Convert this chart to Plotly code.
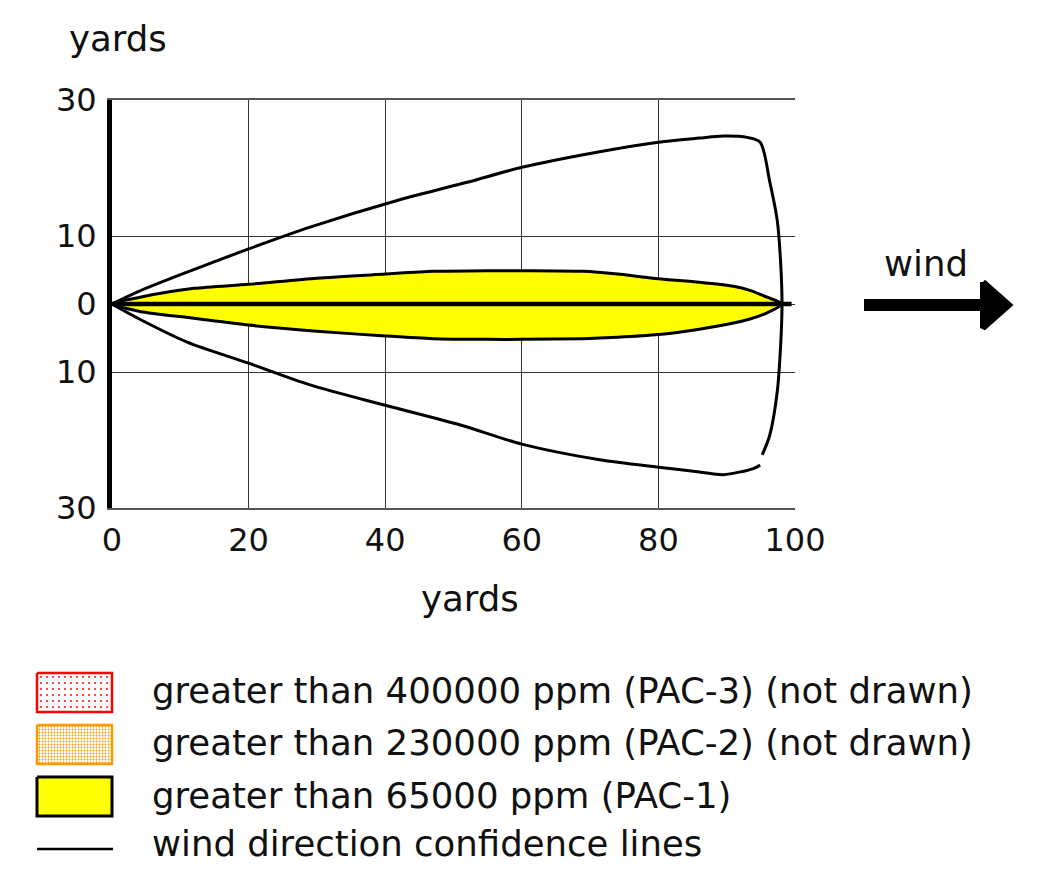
import plotly.graph_objects as go

W, H = 1060, 880
OFF = 8  # page body margin
FONT = "DejaVu Sans"

# wind direction confidence lines (yards downwind, yards crosswind)
upper_x = [0, 4, 11, 20, 29, 42, 52, 60, 71.4, 80, 86, 89.5, 93, 94.9, 96.3, 97.4, 97.9, 98.1, 97.9, 97.4, 96.3, 95.2]
upper_y = [0, 1.9, 4.7, 8.1, 11.3, 15.3, 17.9, 20.1, 22.4, 23.8, 24.4, 24.7, 24.5, 23.8, 18.0, 12.3, 6.0, 0, -6.0, -12.9, -19.3, -22.2]
lower_x = [0, 4, 11, 20, 29, 40, 51, 60, 71.4, 80, 86, 89.5, 93.9, 94.9]
lower_y = [0, -2.2, -5.6, -8.7, -11.9, -14.9, -17.8, -20.6, -22.9, -24.0, -24.7, -25.1, -24.2, -23.7]

# PAC-1 threat zone (> 65000 ppm)
plume_x = [0, 4.1, 12, 20, 30, 40, 47, 55, 60, 69, 74, 80, 86, 91, 93.4, 95.9, 98.1]
plume_top = [0, 1.0, 2.3, 2.9, 3.8, 4.4, 4.8, 4.9, 4.9, 4.8, 4.4, 3.7, 3.2, 2.6, 2.0, 1.0, 0]
plume_bottom = [0, -1.1, -2.1, -3.1, -4.0, -4.7, -5.1, -5.2, -5.2, -5.1, -4.9, -4.5, -3.7, -2.8, -2.2, -1.3, 0]

center_x = [0, 99.5]
center_y = [0, 0]

x_ticks = [0, 20, 40, 60, 80, 100]
y_ticks = [-30, -10, 0, 10, 30]
y_ticktext = ["30", "10", "0", "10", "30"]

legend_labels = [
    "greater than 400000 ppm (PAC-3) (not drawn)",
    "greater than 230000 ppm (PAC-2) (not drawn)",
    "greater than 65000 ppm (PAC-1)",
    "wind direction confidence lines",
]

fig = go.Figure()

# yellow plume
fig.add_trace(go.Scatter(
    x=plume_x + plume_x[::-1][1:], y=plume_top + plume_bottom[::-1][1:],
    fill="toself", fillcolor="#ffff00", mode="lines", line_shape="spline",
    line=dict(color="black", width=3, smoothing=0.7), hoverinfo="skip"))
fig.add_trace(go.Scatter(x=center_x, y=center_y, mode="lines",
                         line=dict(color="black", width=4.5), hoverinfo="skip"))
fig.add_trace(go.Scatter(x=upper_x, y=upper_y, mode="lines", line_shape="spline",
                         line=dict(color="black", width=3, smoothing=0.8), hoverinfo="skip"))
fig.add_trace(go.Scatter(x=lower_x, y=lower_y, mode="lines", line_shape="spline",
                         line=dict(color="black", width=3, smoothing=0.8), hoverinfo="skip"))

# overlay in screen pixel units for legend and wind arrow
def px_trace(xs, ys, **kw):
    fig.add_trace(go.Scatter(x=xs, y=ys, xaxis="x2", yaxis="y2", hoverinfo="skip", **kw))

def box(x0, y0, x1, y1, **kw):
    px_trace([x0, x1, x1, x0, x0], [y0, y0, y1, y1, y0], fill="toself", mode="lines", **kw)

box(37, 673, 112, 712, line=dict(color="red", width=2.5), fillcolor="white",
    fillpattern=dict(shape=".", fgcolor="red", bgcolor="white", size=6, solidity=0.08))
box(37, 725, 112, 764, line=dict(color="#ff9900", width=2.5), fillcolor="white",
    fillpattern=dict(shape=".", fgcolor="#ff9900", bgcolor="white", size=3, solidity=0.3))
box(37, 777, 112, 816, line=dict(color="black", width=3), fillcolor="#ffff00")
px_trace([37, 113], [849, 849], mode="lines", line=dict(color="black", width=2.5))

# wind arrow
px_trace([864, 986], [305, 305], mode="lines", line=dict(color="black", width=12))
px_trace([983, 1009, 983, 983], [282, 305, 328, 282], mode="lines", fill="toself",
         fillcolor="black", line=dict(color="black", width=6))

annotations = []
for i, lab in enumerate(legend_labels):
    annotations.append(dict(x=150, y=[690, 742, 795, 843][i], xref="x2", yref="y2",
                            text=lab, showarrow=False, xanchor="left", yanchor="middle"))
annotations.append(dict(x=118, y=38, xref="x2", yref="y2", text="yards", showarrow=False))
annotations.append(dict(x=470, y=598, xref="x2", yref="y2", text="yards", showarrow=False))
annotations.append(dict(x=926, y=263, xref="x2", yref="y2", text="wind", showarrow=False))

fig.update_layout(
    template="none",
    width=W, height=H,
    margin=dict(l=0, r=0, t=0, b=0, autoexpand=False),
    paper_bgcolor="white", plot_bgcolor="rgba(0,0,0,0)",
    showlegend=False,
    font=dict(family=FONT, size=35.5, color="#111111"),
    annotations=annotations,
    xaxis=dict(domain=[(112 - OFF) / W, (795 - OFF) / W], range=[0, 100], tickvals=x_ticks,
               showgrid=True, gridcolor="#333333", gridwidth=1,
               showline=True, mirror=True, linecolor="#555555", linewidth=1.5,
               zeroline=False, ticks="", ticklabelstandoff=3, automargin=False,
               tickfont=dict(size=32), fixedrange=True),
    yaxis=dict(domain=[1 - (508 - OFF) / H, 1 - (100 - OFF) / H], range=[-30, 30],
               tickvals=y_ticks, ticktext=y_ticktext,
               showgrid=True, gridcolor="#333333", gridwidth=1,
               showline=True, linecolor="black", linewidth=5,
               zeroline=False, ticks="", ticklabelstandoff=4, automargin=False,
               tickfont=dict(size=32), fixedrange=True),
    xaxis2=dict(domain=[0, 1], range=[OFF, W + OFF], visible=False, anchor="y2",
                automargin=False, fixedrange=True),
    yaxis2=dict(domain=[0, 1], range=[H + OFF, OFF], visible=False, anchor="x2",
                automargin=False, fixedrange=True),
)

fig.write_html("out.html", config={"displayModeBar": False})
